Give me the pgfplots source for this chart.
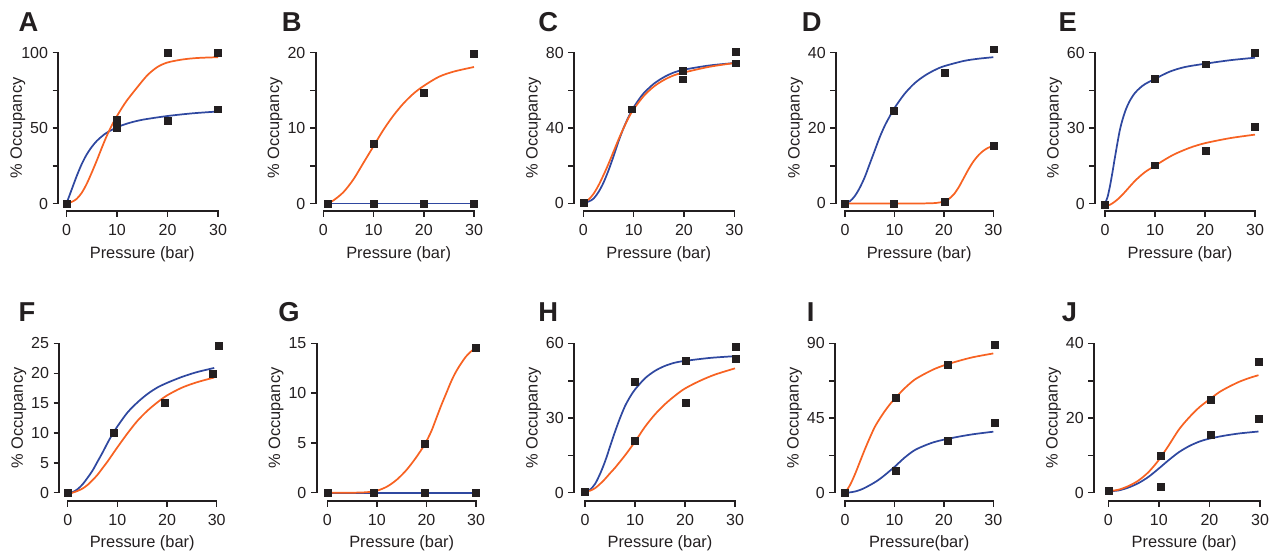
\documentclass[border=0pt]{standalone}
\usepackage{fontspec}
\setmainfont{Liberation Sans}
\usepackage{pgfplots}
\pgfplotsset{compat=1.18}
\definecolor{orng}{RGB}{247,98,34}
\definecolor{blu}{RGB}{47,72,160}
\definecolor{txt}{RGB}{35,31,32}
\pgfplotsset{
  panel/.style={
    scale only axis, clip=false,
    axis x line=bottom, axis y line=left,
    axis line style={draw=none},
    xmax=30, xtick={0,10,20,30},
    tick align=outside,
    major tick length=4.2pt, minor tick length=4.2pt,
    tick style={line width=1.1pt, color=txt},
    tick label style={font=\fontsize{12}{14}\selectfont, text=txt},
    xticklabel style={yshift=-2pt},
    label style={font=\fontsize{12.3}{14}\selectfont, text=txt},
    /pgf/number format/assume math mode=true,
    ylabel={\% Occupancy}, xlabel={Pressure (bar)},
  },
  flatb/.style={draw=none, fill=blu, no markers},
  oc/.style={orng, line width=1.3pt, smooth, no markers},
  bc/.style={blu, line width=1.3pt, smooth, no markers},
  mk/.style={only marks, mark=square*, mark size=2.6pt, mark options={fill=txt, draw=txt, line width=0.4pt}},
}
\begin{document}
\begin{tikzpicture}
\path[use as bounding box] (0,0) rectangle (959.25pt,416.25pt);
\tikzset{lett/.style={anchor=base west, inner sep=0pt, font=\fontsize{20.5}{24}\selectfont\bfseries, text=txt}}
\node[lett] at (13.73pt,392.48pt) {A};
\node[lett] at (211.28pt,392.48pt) {B};
\node[lett] at (403.5pt,392.48pt) {C};
\node[lett] at (601.28pt,392.48pt) {D};
\node[lett] at (793.73pt,392.48pt) {E};
\node[lett] at (13.73pt,174.98pt) {F};
\node[lett] at (208.5pt,174.98pt) {G};
\node[lett] at (403.5pt,174.98pt) {H};
\node[lett] at (605.03pt,174.98pt) {I};
\node[lett] at (796.28pt,174.98pt) {J};

% ---------------- A
\begin{axis}[panel, at={(43.73pt,258pt)}, anchor=south west, width=119.78pt, height=118.73pt,
  xmin=-1.62, ymin=-4.97, ymax=100, ytick={0,50,100}, minor y tick num=1,
  xlabel style={at={(axis description cs:0.5256,-0.272)}, anchor=center},
  ylabel style={at={(axis description cs:-0.2536,0.5236)}, anchor=center}]
\addplot[bc] coordinates {(0,0)(1,9)(2,18)(3,26)(4,32.5)(5,37.5)(6,41.5)(7,44.5)(8,47)(10,50.5)(12,53)(15,55.5)(20,58)(25,59.8)(30,61)};
\addplot[oc] coordinates {(0,0)(1,1)(2,3)(3,7)(4,13)(5,20.5)(6,28.5)(7,37)(8,45)(9,52)(10,58)(11,63.5)(12,68.5)(14,77)(16,85)(18,90.5)(20,93.5)(23,95.5)(26,96.5)(30,97)};
\addplot[mk] coordinates {(0,0)(10,55.5)(10,50)(20,100)(20,55)(30,100)(30,62.5)};
\end{axis}

% ---------------- B
\begin{axis}[panel, at={(236.78pt,258pt)}, anchor=south west, width=118.73pt, height=118.73pt,
  xmin=-1.51, ymin=-0.994, ymax=20, ytick={0,10,20}, minor y tick num=1,
  xlabel style={at={(axis description cs:0.524,-0.272)}, anchor=center},
  ylabel style={at={(axis description cs:-0.2558,0.5236)}, anchor=center}]
\addplot[flatb] coordinates {(0.8,-0.13)(30,-0.13)(30,0.13)(0.8,0.13)} -- cycle;
\addplot[oc] coordinates {(0.8,0)(2,0.4)(4,1.5)(6,3.2)(8,5.4)(10,7.6)(12,9.8)(14,11.7)(16,13.3)(18,14.6)(20,15.6)(23,16.8)(26,17.5)(30,18.1)};
\addplot[mk] coordinates {(0.8,0)(10,7.9)(10,0)(20,14.7)(20,0)(30,19.8)(30,0)};
\end{axis}

% ---------------- C
\begin{axis}[panel, at={(430.5pt,258pt)}, anchor=south west, width=120.23pt, height=118.73pt,
  xmin=-1.85, ymin=-3.98, ymax=80, ytick={0,40,80}, minor y tick num=1,
  xlabel style={at={(axis description cs:0.529,-0.272)}, anchor=center},
  ylabel style={at={(axis description cs:-0.2527,0.5236)}, anchor=center}]
\addplot[bc] coordinates {(0,0.5)(1,1)(2,2.5)(3,6)(4,11)(5,17.5)(6,25)(7,33)(8,40)(9,46)(10,51)(11,55)(12,58.5)(14,63.5)(16,67)(18,69.5)(20,71)(25,73.2)(30,74.5)};
\addplot[oc] coordinates {(0,0.5)(1,2)(2,5)(3,9.5)(4,15)(5,21)(6,27.5)(7,34)(8,40)(9,45.5)(10,50)(12,57)(14,62)(16,65.5)(18,68)(20,69.5)(25,72.5)(30,74.5)};
\addplot[mk] coordinates {(0,0.5)(9.7,50)(19.8,70.3)(19.8,65.9)(30.2,80.5)(30.2,74.4)};
\end{axis}

% ---------------- D
\begin{axis}[panel, at={(627pt,258pt)}, anchor=south west, width=117.98pt, height=118.73pt,
  xmin=-1.82, ymin=-1.99, ymax=40, ytick={0,20,40}, minor y tick num=1,
  xlabel style={at={(axis description cs:0.5286,-0.272)}, anchor=center},
  ylabel style={at={(axis description cs:-0.2575,0.5236)}, anchor=center}]
\addplot[bc] coordinates {(0,0)(1,0.6)(2,2)(3,4.2)(4,7)(5,10.5)(6,14)(7,17.5)(8,20.5)(9,23)(10,25.3)(12,29)(14,31.8)(16,33.8)(18,35.3)(20,36.4)(24,37.8)(27,38.4)(30,38.8)};
\addplot[oc] coordinates {(0,0)(10,0)(15,0)(18,0.1)(19,0.25)(20,0.5)(21,1.2)(22,2.4)(23,4.3)(24,6.7)(25,9.1)(26,11.2)(27,12.8)(28,14)(29,14.8)(30,15.3)};
\addplot[mk] coordinates {(0,0)(9.9,0)(9.9,24.7)(20.1,34.6)(20.1,0.5)(30,40.9)(30,15.4)};
\end{axis}

% ---------------- E
\begin{axis}[panel, at={(821.25pt,258pt)}, anchor=south west, width=120pt, height=118.73pt,
  xmin=-2, ymin=-2.98, ymax=60, ytick={0,30,60}, minor y tick num=1,
  xlabel style={at={(axis description cs:0.531,-0.272)}, anchor=center},
  ylabel style={at={(axis description cs:-0.2531,0.5236)}, anchor=center}]
\addplot[bc] coordinates {(0,0)(0.5,2.5)(1,7)(1.5,12.5)(2,18.5)(3,29.5)(4,36.5)(5,41)(6,44)(7,46)(8,47.5)(10,49.6)(13,52.5)(16,54.3)(20,55.6)(25,57)(30,58)};
\addplot[oc] coordinates {(0,-1)(1,-0.5)(2,0.8)(3,2.5)(4,4.6)(6,9)(8,12.5)(10,15)(12,17.5)(14,19.7)(17,22.2)(20,24)(25,26)(30,27.4)};
\addplot[mk] coordinates {(0,-0.5)(9.9,49.6)(9.9,15.2)(20.1,55.4)(20.1,20.9)(30,60.1)(30,30.4)};
\end{axis}

% ---------------- F
\begin{axis}[panel, at={(44.48pt,40.5pt)}, anchor=south west, width=118.05pt, height=118.13pt,
  xmin=-1.69, ymin=-1.39, ymax=25, ytick={0,5,10,15,20,25},
  xlabel style={at={(axis description cs:0.5267,-0.27)}, anchor=center},
  ylabel style={at={(axis description cs:-0.2573,0.5263)}, anchor=center}]
\addplot[bc] coordinates {(0,0)(1,0.1)(2,0.6)(3,1.4)(4,2.5)(5,3.7)(6,5.2)(7,6.7)(8,8.3)(9,9.8)(10,11.1)(12,13.4)(14,15.1)(16,16.5)(18,17.6)(20,18.4)(23,19.4)(26,20.2)(29.5,20.9)};
\addplot[oc] coordinates {(0,-0.2)(1,0)(2,0.3)(3,0.7)(4,1.3)(5,2.1)(6,3.0)(7,4.1)(8,5.2)(9,6.4)(10,7.6)(12,9.9)(14,12.0)(16,13.7)(18,15.1)(20,16.3)(23,17.6)(26,18.5)(29.5,19.3)};
\addplot[mk] coordinates {(0,0)(9.3,10)(19.5,15)(29.2,20)(30.5,24.6)};
\end{axis}

% ---------------- G
\begin{axis}[panel, at={(237.53pt,40.5pt)}, anchor=south west, width=119.48pt, height=118.13pt,
  xmin=-2.14, ymin=-0.834, ymax=15, ytick={0,5,10,15},
  xlabel style={at={(axis description cs:0.5333,-0.27)}, anchor=center},
  ylabel style={at={(axis description cs:-0.2542,0.5263)}, anchor=center}]
\addplot[flatb] coordinates {(0,-0.1)(30,-0.1)(30,0.1)(0,0.1)} -- cycle;
\addplot[oc] coordinates {(0,0)(5,0)(8,0.05)(10,0.2)(12,0.6)(14,1.3)(16,2.3)(18,3.6)(19.7,4.9)(21,6.2)(22,7.5)(23,8.8)(24,10)(25,11.2)(26,12.2)(27,13)(28,13.7)(29,14.2)(30,14.6)};
\addplot[mk] coordinates {(0,0)(9.4,0)(19.7,0)(19.7,4.9)(30,0)(30,14.6)};
\end{axis}

% ---------------- H
\begin{axis}[panel, at={(430.5pt,40.5pt)}, anchor=south west, width=120.75pt, height=118.13pt,
  xmin=-2.2, ymin=-3.34, ymax=60, ytick={0,30,60}, minor y tick num=1,
  xlabel style={at={(axis description cs:0.534,-0.27)}, anchor=center},
  ylabel style={at={(axis description cs:-0.2516,0.5263)}, anchor=center}]
\addplot[bc] coordinates {(0,0.5)(1,1.2)(2,3.5)(3,7.5)(4,12.5)(5,18.5)(6,24.5)(7,30)(8,34.8)(9,38.5)(10,41.5)(12,46)(14,49)(16,51)(18,52.3)(20,53)(25,54.2)(30,54.9)};
\addplot[oc] coordinates {(0,0.5)(1,0.8)(2,1.8)(3,3.5)(4,5.5)(5,7.8)(6,10)(8,15)(10,20.5)(12,26.5)(14,31.5)(16,35.6)(18,39)(20,41.9)(23,45)(26,47.5)(30,50)};
\addplot[mk] coordinates {(0,0.5)(10,44.6)(10,20.9)(20.1,52.9)(20.1,36.2)(30.2,58.7)(30.2,54)};
\end{axis}

% ---------------- I
\begin{axis}[panel, at={(626.25pt,40.5pt)}, anchor=south west, width=118.73pt, height=118.13pt,
  xmin=-2.02, ymin=-5.0, ymax=90, ytick={0,45,90}, minor y tick num=1,
  xlabel={Pressure(bar)},
  xlabel style={at={(axis description cs:0.5315,-0.27)}, anchor=center},
  ylabel style={at={(axis description cs:-0.2558,0.5263)}, anchor=center}]
\addplot[bc] coordinates {(0,0)(1,0.2)(2,0.7)(3,1.6)(4,2.9)(5,4.5)(6,6.2)(7,8.2)(8,10.5)(9,13)(10,15.5)(12,21)(14,25.5)(16,28.3)(18,30.5)(20,32)(23,33.8)(26,35.3)(30,36.8)};
\addplot[oc] coordinates {(0,0)(1,4.5)(2,11)(3,18.5)(4,26)(5,33)(6,39.5)(7,44.5)(8,49)(9,53)(10,56.5)(12,62.8)(14,68)(16,71.5)(18,74.5)(20,76.8)(23,79.5)(26,81.8)(30,84)};
\addplot[mk] coordinates {(0,0)(10.2,57.1)(10.2,13.3)(20.7,76.9)(20.7,31.3)(30.2,89.2)(30.2,42)};
\end{axis}

% ---------------- J
\begin{axis}[panel, at={(820.5pt,40.5pt)}, anchor=south west, width=124.5pt, height=118.13pt,
  xmin=-2.83, ymin=-2.22, ymax=40, ytick={0,20,40}, minor y tick num=1,
  xlabel style={at={(axis description cs:0.543,-0.27)}, anchor=center},
  ylabel style={at={(axis description cs:-0.244,0.5263)}, anchor=center}]
\addplot[bc] coordinates {(0,0.4)(2,0.6)(4,1.4)(6,2.6)(8,4.3)(10,6.5)(12,8.8)(14,10.9)(16,12.5)(18,13.7)(20,14.5)(23,15.3)(26,15.9)(29.7,16.4)};
\addplot[oc] coordinates {(0,0.4)(2,0.8)(4,1.8)(6,3.3)(8,5.6)(10,8.8)(12,12.8)(14,17)(16,20.2)(18,22.9)(20,25)(22,27)(24,28.5)(26,29.8)(28,30.8)(29.7,31.5)};
\addplot[mk] coordinates {(0,0.4)(10.4,10)(10.4,1.7)(20.2,25)(20.2,15.5)(29.8,35.1)(29.8,19.8)};
\end{axis}

% ---------------- axis lines (spines), drawn on top of all panels
\foreach \ya/\xz/\xt in {43.73/49.87/163.51, 236.78/242.47/355.51, 430.5/437.48/550.73, 627/633.75/744.98, 821.25/828.75/941.25}{
  \fill[txt] (\ya pt-0.8pt,263.2pt) rectangle (\ya pt+0.8pt,377.1pt);
  \fill[txt] (\xz pt-0.4pt,257.2pt) rectangle (\xt pt+0.4pt,258.8pt);
}
\foreach \ya/\xz/\xt in {44.48/50.78/162.53, 237.53/245.49/357.01, 430.5/438.75/551.25, 626.25/633.74/744.98, 820.5/831.23/945.0}{
  \fill[txt] (\ya pt-0.8pt,46.3pt) rectangle (\ya pt+0.8pt,159.0pt);
  \fill[txt] (\xz pt-0.4pt,39.7pt) rectangle (\xt pt+0.4pt,41.3pt);
}
\end{tikzpicture}
\end{document}
